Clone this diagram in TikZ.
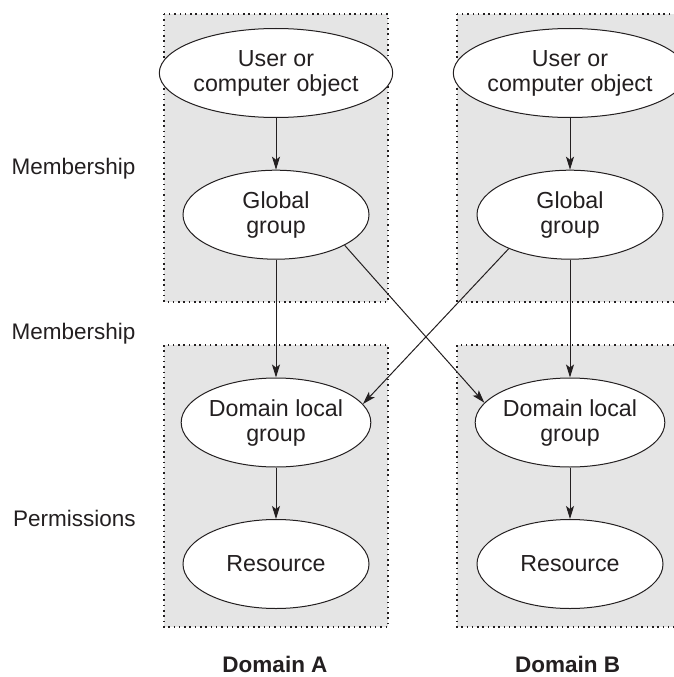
\documentclass[tikz,border=0pt]{standalone}
\usepackage{fontspec}
\setmainfont{Liberation Sans}
\usetikzlibrary{arrows.meta,shapes.geometric}
\definecolor{panel}{gray}{0.9}
\definecolor{ink}{HTML}{231F20}

\begin{document}
\begin{tikzpicture}[x=1pt,y=-1pt,
  panelbox/.style={fill=panel, draw=ink, line width=1.2pt, dash pattern=on 1.5pt off 3.8pt},
  obj/.style={ellipse, draw=ink, fill=white, line width=1pt, minimum width=186pt,
    minimum height=89pt, inner sep=0pt, align=center, text=ink,
    font=\fontsize{23.2}{25}\selectfont},
  rel/.style={draw=ink, line width=1pt, -{Stealth[length=13pt,width=8pt,inset=3pt]}},
  sidelabel/.style={anchor=base west, inner sep=0pt, text=ink,
    font=\fontsize{22.5}{25}\selectfont},
  domlabel/.style={anchor=base, inner sep=0pt, text=ink,
    font=\fontsize{22.5}{25}\selectfont\bfseries}]

\useasboundingbox (0,0) rectangle (674,677);
\begin{scope}
  \clip (0,0) rectangle (674,677);

  % domain panels
  \path[panelbox] (164,14)  rectangle (388,302);
  \path[panelbox] (457,14)  rectangle (681,302);
  \path[panelbox] (164,345) rectangle (388,627);
  \path[panelbox] (457,345) rectangle (681,627);

  % Domain A objects
  \node[obj] (ua)  at (276,73)    {User or\\computer object};
  \node[obj] (ga)  at (276,214.7) {Global\\group};
  \node[obj] (dla) at (276,422.5) {Domain local\\group};
  \node[obj] (ra)  at (276,564)   {Resource};

  % Domain B objects
  \node[obj] (ub)  at (570,73)    {User or\\computer object};
  \node[obj] (gb)  at (570,214.7) {Global\\group};
  \node[obj] (dlb) at (570,422.5) {Domain local\\group};
  \node[obj] (rb)  at (570,564)   {Resource};

  % relations within each domain
  \draw[rel] (ua) -- (ga);
  \draw[rel] (ga) -- (dla);
  \draw[rel] (dla) -- (ra);
  \draw[rel] (ub) -- (gb);
  \draw[rel] (gb) -- (dlb);
  \draw[rel] (dlb) -- (rb);

  % cross-domain membership
  \draw[rel] (ga.-24.7) -- (dlb.167.3);
  \draw[rel] (gb.209.9) -- (dla.12.8);

  % row and column labels
  \node[sidelabel] (m1) at (11.5,174)   {Membership};
  \node[sidelabel] (m2) at (11.5,339.5) {Membership};
  \node[sidelabel] (pm) at (13,526.7)   {Permissions};
  \node[domlabel]  (da) at (275,672)    {Domain A};
  \node[domlabel]  (db) at (567.7,672)  {Domain B};
\end{scope}
\end{tikzpicture}
\end{document}
